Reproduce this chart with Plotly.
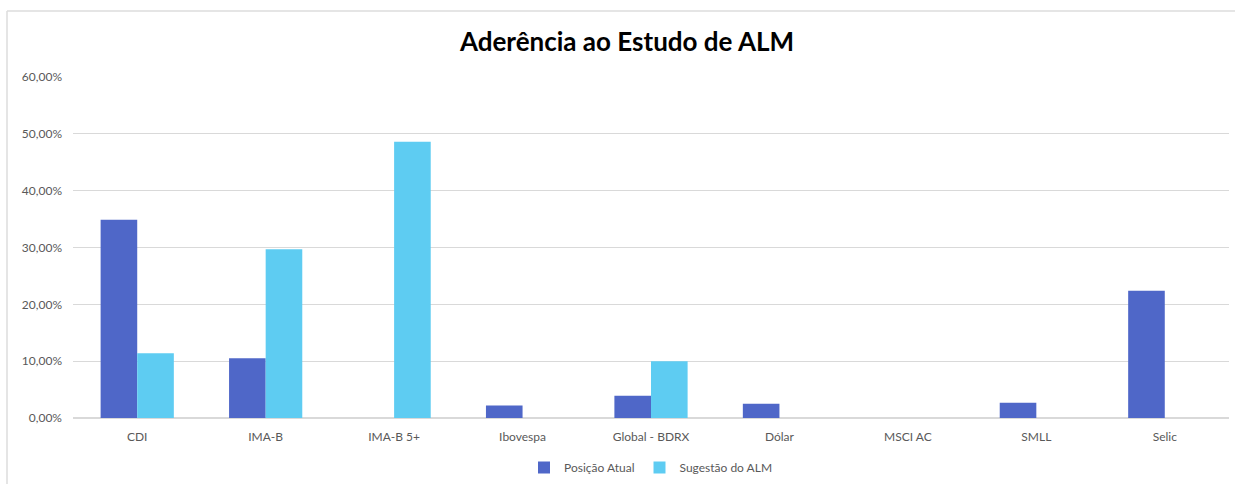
import plotly.graph_objects as go

categorias = ["CDI", "IMA-B", "IMA-B 5+", "Ibovespa", "Global - BDRX",
              "Dólar", "MSCI AC", "SMLL", "Selic"]
posicao_atual = [0.349, 0.105, 0.0, 0.022, 0.039, 0.025, 0.0, 0.027, 0.224]
sugestao_alm = [0.114, 0.297, 0.486, 0.0, 0.100, 0.0, 0.0, 0.0, 0.0]

FONT = "Lato"
W, H = 1235, 484
ML, MR, MT, MB = 73, 6, 77, 66
pw, ph = W - ML - MR, H - MT - MB


def px_to_paper_x(px):
    return (px - ML) / pw


def px_to_paper_y(py):
    return (H - MB - py) / ph


fig = go.Figure()
fig.add_trace(go.Bar(name="Posição Atual", x=categorias, y=posicao_atual,
                     marker=dict(color="#4F67C8", line=dict(width=0))))
fig.add_trace(go.Bar(name="Sugestão do ALM", x=categorias, y=sugestao_alm,
                     marker=dict(color="#5ECCF2", line=dict(width=0))))

# outer chart frame (left and top edges visible)
frame = dict(type="line", xref="paper", yref="paper",
             line=dict(color="#DDDDDD", width=1.5), layer="below")
fig.add_shape(**frame, x0=px_to_paper_x(7), x1=px_to_paper_x(7),
              y0=px_to_paper_y(11), y1=px_to_paper_y(500))
fig.add_shape(**frame, x0=px_to_paper_x(7), x1=px_to_paper_x(1240),
              y0=px_to_paper_y(11), y1=px_to_paper_y(11))

fig.update_layout(
    width=W, height=H,
    margin=dict(l=ML, r=MR, t=MT, b=MB, autoexpand=False),
    paper_bgcolor="white", plot_bgcolor="white",
    separators=",.",
    barmode="group", bargap=0.43, bargroupgap=0,
    font=dict(family=FONT, color="#595959", size=12),
    title=dict(text="<b>Aderência ao Estudo de ALM</b>",
               font=dict(family=FONT, size=26, color="#000000"),
               x=627 / W, xanchor="center",
               y=1 - 42 / H, yanchor="middle"),
    legend=dict(orientation="h", x=0.5, xanchor="center",
                y=px_to_paper_y(453), yanchor="top",
                font=dict(family=FONT, size=12, color="#595959"),
                itemwidth=30, tracegroupgap=0),
    xaxis=dict(showgrid=False, showline=False, ticks="",
               ticklabelstandoff=10,
               tickfont=dict(family=FONT, size=12, color="#595959")),
    yaxis=dict(range=[0, 0.6], dtick=0.1, tickformat=".2%",
               showgrid=True, gridcolor="#D9D9D9", gridwidth=1,
               zeroline=True, zerolinecolor="#D9D9D9", zerolinewidth=1.5,
               showline=False, ticks="", ticklabelstandoff=10,
               tickfont=dict(family=FONT, size=12, color="#595959")),
)

fig.write_html("out.html")
